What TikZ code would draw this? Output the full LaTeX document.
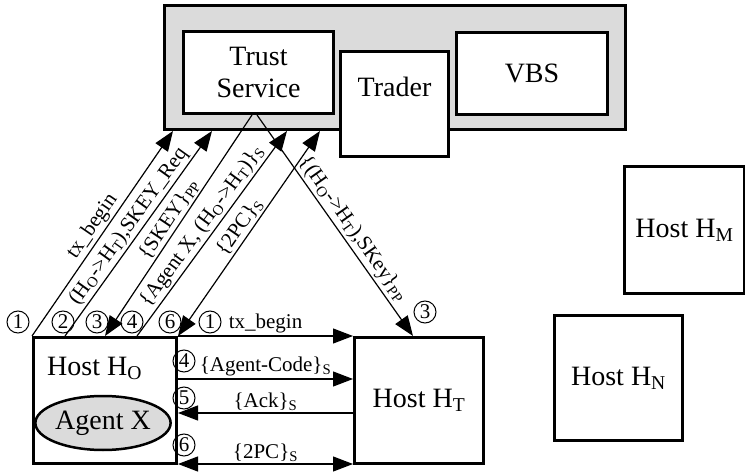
\documentclass[tikz,border=0pt]{standalone}
\usepackage{fontspec}
\setmainfont{Liberation Serif}
\usetikzlibrary{shapes.geometric,arrows.meta}

\begin{document}
\begin{tikzpicture}[x=1pt,y=-1pt,>={Triangle[length=20pt,width=15pt]},
  box/.style={draw,line width=3pt,fill=white,inner sep=0pt,font=\fontsize{28}{32}\selectfont},
  lbl/.style={font=\fontsize{21}{23}\selectfont,inner sep=2pt},
  num/.style={draw,circle,line width=1pt,inner sep=0pt,minimum size=22pt,font=\fontsize{21}{21}\selectfont},
  msg/.style={line width=1.2pt}]
  \useasboundingbox (0,0) rectangle (745,473);
  \node[box,fill=gray!28,anchor=north west,minimum width=461pt,minimum height=124pt] (tsys) at (163,4) {};
  \node[box,align=center,anchor=north west,minimum width=150pt,minimum height=82pt] (ts) at (182,30) {Trust\\Service};
  \node[box,anchor=north west,minimum width=108pt,text height=45pt,text depth=60pt] (trader) at (339,50) {Trader};
  \node[box,anchor=north west,minimum width=151pt,minimum height=82pt] (vbs) at (455,31) {VBS};
  \node[box,anchor=north west,minimum width=120pt,minimum height=127pt] (hm) at (623,165) {Host H\textsubscript{M}};
  \node[box,anchor=north west,minimum width=128pt,minimum height=125pt] (hn) at (553,314) {Host H\textsubscript{N}};
  \node[box,anchor=north west,minimum width=129pt,minimum height=126pt] (ht) at (353,336) {Host H\textsubscript{T}};
  \node[box,anchor=north west,minimum width=143pt,minimum height=126pt] (ho) at (32,336) {};
  \node[anchor=base west,font=\fontsize{28}{32}\selectfont,inner sep=0pt] (hotext) at (47,375) {Host H\textsubscript{O}};
  \node[ellipse,draw,line width=2.5pt,fill=gray!28,minimum width=116pt,minimum height=54pt,inner sep=0pt,font=\fontsize{28}{32}\selectfont] (agent) at (103,423) {Agent X};

  \draw[msg,->] (ho.north west) -- ([xshift=10pt]tsys.south west) node[lbl,midway,above,sloped] {tx\_begin};
  \draw[msg,->] ([xshift=33pt]ho.north west) -- ([xshift=49pt]tsys.south west) node[lbl,midway,above,sloped] {(H\textsubscript{O}->H\textsubscript{T}),SKEY\_Req};
  \draw[msg,<-] ([xshift=73pt]ho.north west) -- ([xshift=70pt]ts.south west) node[lbl,midway,above,sloped] {\{SKEY\}\textsubscript{PP}};
  \draw[msg,->] ([xshift=105pt]ho.north west) -- ([xshift=124pt]tsys.south west) node[lbl,midway,above,sloped] {\{Agent X, (H\textsubscript{O}->H\textsubscript{T})\}\textsubscript{S}};
  \draw[msg,<->] (ho.north east) -- ([xshift=157pt]tsys.south west) node[lbl,midway,above,sloped] {\{2PC\}\textsubscript{S}};
  \draw[msg,->] ([xshift=75pt]ts.south west) -- ([xshift=60pt]ht.north west) node[lbl,pos=0.55,above,sloped] {\{(H\textsubscript{O}->H\textsubscript{T}),SKey\}\textsubscript{PP}};

  \draw[msg,->] (ho.north east) -- (ht.north west) node[lbl,midway,above] {tx\_begin};
  \draw[msg,->] ([yshift=-43pt]ho.north east) -- ([yshift=-43pt]ht.north west) node[lbl,midway,above] {\{Agent-Code\}\textsubscript{S}};
  \draw[msg,->] ([yshift=-77pt]ht.north west) -- ([yshift=-77pt]ho.north east) node[lbl,midway,above] {\{Ack\}\textsubscript{S}};
  \draw[msg,<->] ([yshift=1pt]ho.south east) -- ([yshift=1pt]ht.south west) node[lbl,midway,above] {\{2PC\}\textsubscript{S}};

  \node[num] (n1) at (18,322) {1};
  \node[num] (n2) at (63,322) {2};
  \node[num] (n3) at (97,322) {3};
  \node[num] (n4) at (132,322) {4};
  \node[num] (n6) at (170,322) {6};
  \node[num] (m1) at (210,322) {1};
  \node[num] (m4) at (184,361) {4};
  \node[num] (m5) at (184,398) {5};
  \node[num] (m6) at (184,445) {6};
  \node[num] (m3) at (425,312) {3};
\end{tikzpicture}
\end{document}
